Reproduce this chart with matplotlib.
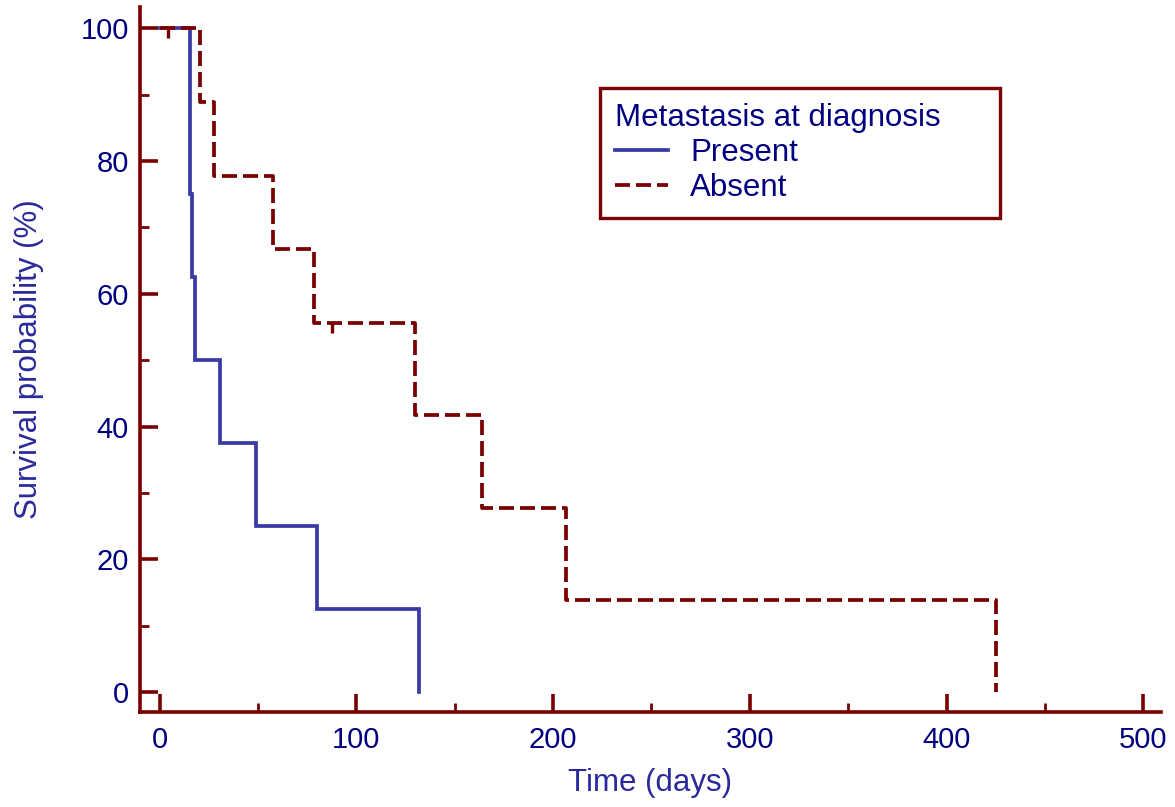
import matplotlib
matplotlib.use("Agg")
import matplotlib.pyplot as plt
from matplotlib.path import Path

plt.rcParams['font.family'] = ['Liberation Sans', 'DejaVu Sans']

# Kaplan-Meier data
present_time = [0, 15.3, 16.5, 18.0, 30.5, 49.0, 80.0, 132.0]
present_surv = [100, 75.0, 62.5, 50.0, 37.5, 25.0, 12.5, 0.0]

absent_time = [0, 20.3, 27.5, 57.5, 78.3, 130.0, 164.0, 206.5, 425.0]
absent_surv = [100, 88.9, 77.8, 66.7, 55.6, 41.7, 27.8, 13.9, 0.0]

absent_cens_time = [4.0, 87.5]
absent_cens_surv = [100.0, 55.6]

x_ticks = [0, 100, 200, 300, 400, 500]
y_ticks = [0, 20, 40, 60, 80, 100]

RED = '#7a0000'
BLUE = '#3a3aa6'
NAVY = '#000080'
LABEL = '#2a2a9c'

fig = plt.figure(figsize=(11.75, 8.07), dpi=100)
ax = fig.add_axes([140/1175, 95/807, (1161-140)/1175, (712-7)/807])

ax.plot(present_time, present_surv, drawstyle='steps-post', color=BLUE, lw=2.7,
        label='Present', solid_joinstyle='miter')
ax.plot(absent_time, absent_surv, drawstyle='steps-post', color=RED, lw=2.7,
        dashes=(4.0, 1.6), label='Absent')

cens_marker = Path([(0, 0), (0, -1)], [Path.MOVETO, Path.LINETO])
ax.plot(absent_cens_time, absent_cens_surv, ls='none', marker=cens_marker,
        markersize=15, markeredgewidth=2.4, color=RED)

ax.set_xlim(-10, 509)
ax.set_ylim(-3, 103.2)

for s in ['top', 'right']:
    ax.spines[s].set_visible(False)
for s in ['left', 'bottom']:
    ax.spines[s].set_color(RED)
    ax.spines[s].set_linewidth(2.6)

ax.set_xticks(x_ticks)
ax.set_yticks(y_ticks)
ax.set_xticks([50, 150, 250, 350, 450], minor=True)
ax.set_yticks([10, 30, 50, 70, 90], minor=True)
ax.tick_params(which='major', direction='in', length=13, width=2.6, color=RED,
               labelcolor=NAVY, labelsize=21, pad=10)
ax.tick_params(which='minor', direction='in', length=6.5, width=2.0, color=RED)
ax.tick_params(axis='y', which='major', pad=8)

ax.set_xlabel('Time (days)', fontsize=22.5, color=LABEL, labelpad=10)
ax.set_ylabel('Survival probability (%)', fontsize=22.5, color=LABEL, labelpad=26)

leg = ax.legend(title='Metastasis at diagnosis', loc='upper left',
                bbox_to_anchor=((600-140)/1021, 0.5, 400/1021, (712-88)/705 - 0.5),
                bbox_transform=ax.transAxes, mode='expand', borderaxespad=0,
                fontsize=22.5, title_fontsize=22.5, frameon=True, fancybox=False,
                framealpha=1.0,
                handlelength=1.7, handletextpad=0.7, borderpad=0.48,
                labelspacing=0.16, alignment='left')
leg.get_frame().set_edgecolor(RED)
leg.get_frame().set_linewidth(2.4)
leg.get_title().set_color(NAVY)
for t in leg.get_texts():
    t.set_color(NAVY)

fig.savefig('out.png', dpi=100, facecolor='white')
